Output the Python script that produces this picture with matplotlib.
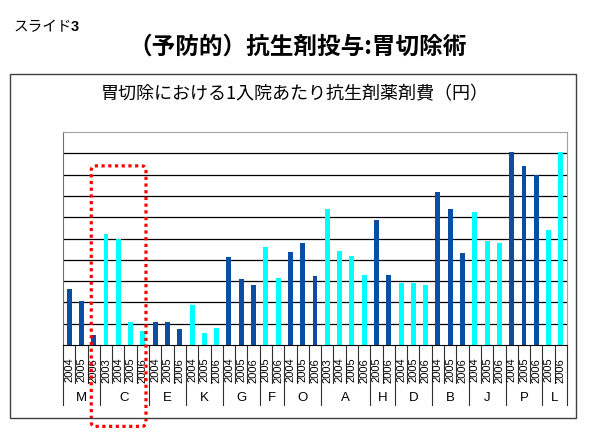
import matplotlib.pyplot as plt
import matplotlib.transforms as mtransforms
from matplotlib.patches import Rectangle, FancyBboxPatch

plt.rcParams['font.family'] = ['Noto Sans CJK JP', 'DejaVu Sans']

# hospitals and the years reported for each
groups = ["M", "C", "E", "K", "G", "F", "O", "A", "H", "D", "B", "J", "P", "L"]
years = [
    ["2004", "2005", "2006"],
    ["2003", "2004", "2005", "2006"],
    ["2004", "2005", "2006"],
    ["2004", "2005", "2006"],
    ["2004", "2005", "2006"],
    ["2005", "2006"],
    ["2004", "2005", "2006"],
    ["2003", "2004", "2005", "2006"],
    ["2005", "2006"],
    ["2004", "2005", "2006"],
    ["2004", "2005", "2006"],
    ["2004", "2005", "2006"],
    ["2004", "2005", "2006"],
    ["2005", "2006"],
]
# cost per admission (grid units, no scale shown in the source)
values = [
    [2.63, 2.07, 0.47],
    [5.21, 4.99, 1.10, 0.66],
    [1.10, 1.10, 0.75],
    [1.89, 0.58, 0.80],
    [4.13, 3.11, 2.82],
    [4.60, 3.16],
    [4.38, 4.77, 3.26],
    [6.40, 4.43, 4.18, 3.29],
    [5.87, 3.29],
    [2.91, 2.90, 2.82],
    [7.18, 6.38, 4.33],
    [6.26, 4.87, 4.77],
    [9.05, 8.40, 8.00],
    [5.40, 9.05],
]
highlight = "C"

dark = "#0A4EA3"
light = "#00FFFF"

W, H = 600, 443
fig = plt.figure(figsize=(W / 100, H / 100), dpi=100)
ax = fig.add_axes([63 / W, 1 - 345 / H, 504 / W, 213 / H])

xs, vals, cols, labels = [], [], [], []
starts = []
i = 0
for g, (yrs, v) in enumerate(zip(years, values)):
    starts.append(i)
    for y, val in zip(yrs, v):
        xs.append(i)
        vals.append(val)
        cols.append(dark if g % 2 == 0 else light)
        labels.append(y)
        i += 1
n = i

for y in range(1, 10):
    ax.axhline(y, color="black", lw=0.9, zorder=0)
ax.bar(xs, vals, width=0.4, color=cols, zorder=2)
ax.set_xlim(-0.5, n - 0.5)
ax.set_ylim(0, 10)
ax.set_xticks([])
ax.set_yticks([])
ax.spines["bottom"].set_color("black")
ax.spines["left"].set_color("#707070")
ax.spines["top"].set_color("#a0a0a0")
ax.spines["right"].set_color("#a0a0a0")

trans = mtransforms.blended_transform_factory(ax.transData, ax.transAxes)
for x, lab in zip(xs, labels):
    ax.text(x, -0.118, lab, rotation=90, ha="center", va="center",
            fontsize=8, family="Liberation Sans", transform=trans)
bounds = starts + [n]
for b in range(n + 1):
    low = -0.282 if b in bounds else -0.178
    ax.plot([b - 0.5, b - 0.5], [0, low], color="#303030", lw=0.8,
            transform=trans, clip_on=False)
for g, s in enumerate(starts):
    mid = (s + bounds[g + 1] - 1) / 2
    ax.text(mid, -0.25, groups[g], ha="center", va="center", fontsize=9.5,
            family="Liberation Sans", transform=trans)

# red dotted highlight around group C
gi = groups.index(highlight)
x0 = starts[gi] - 1.2
x1 = bounds[gi + 1] - 1 + 0.25
box = FancyBboxPatch((x0, -3.82), x1 - x0, 8.41 + 3.82,
                     boxstyle="round,pad=0,rounding_size=0.35",
                     mutation_aspect=0.58, fill=False, edgecolor="#FF0000",
                     lw=2.3, linestyle=(0, (1, 1.1)), clip_on=False, zorder=5)
ax.add_patch(box)

# outer chart frame
fig.add_artist(Rectangle((10 / W, 1 - 418 / H), 566 / W, 344 / H,
                         transform=fig.transFigure, fill=False,
                         edgecolor="#404040", lw=1))

fig.text(14 / W, 1 - 27 / H, "スライド", fontsize=10.5, va="center")
fig.text(71 / W, 1 - 27 / H, "3", fontsize=10.5, fontweight="bold", va="center",
         family="Liberation Sans")
fig.text(298 / W, 1 - 47 / H, "（予防的）抗生剤投与:胃切除術", fontsize=17,
         fontweight="bold", ha="center", va="center")
fig.text(295 / W, 1 - 94 / H, "胃切除における1入院あたり抗生剤薬剤費（円）",
         fontsize=13, ha="center", va="center")

fig.savefig("out.png", dpi=100)
